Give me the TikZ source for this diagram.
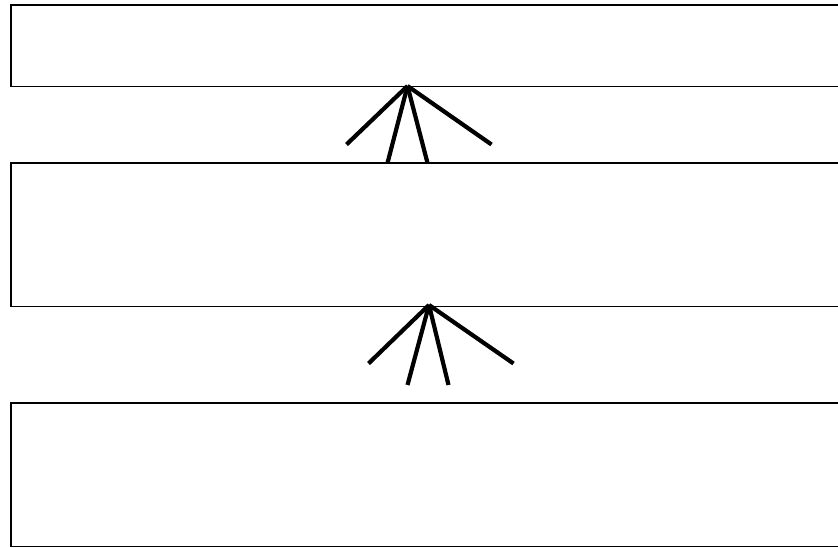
\documentclass[tikz,border=0pt]{standalone}
\begin{document}
\begin{tikzpicture}[x=1pt,y=-1pt,
  box/.style={draw=black,line width=1.6pt,fill=none},
  fan/.style={draw=black,line width=4.2pt,line cap=butt}]
\useasboundingbox (0,0) rectangle (838,548);
\clip (0,0) rectangle (838,548);
\path[box] (11,5) rectangle (860,86.5);
\path[box] (11,163) rectangle (860,306.5);
\path[box] (11,403) rectangle (860,546.5);
% fan 1
\coordinate (a1) at (407.5,86);
\coordinate (a1l) at (346.5,144.5);
\coordinate (a1ml) at (387.5,163);
\coordinate (a1mr) at (427.5,163);
\coordinate (a1r) at (491.5,144.5);
\foreach \e in {a1l,a1ml,a1mr,a1r} \draw[fan] (a1) -- (\e);
% fan 2
\coordinate (a2) at (429,305);
\coordinate (a2l) at (368.5,363.5);
\coordinate (a2ml) at (407.5,385);
\coordinate (a2mr) at (448.5,385);
\coordinate (a2r) at (513.5,363.5);
\foreach \e in {a2l,a2ml,a2mr,a2r} \draw[fan] (a2) -- (\e);
\end{tikzpicture}
\end{document}
